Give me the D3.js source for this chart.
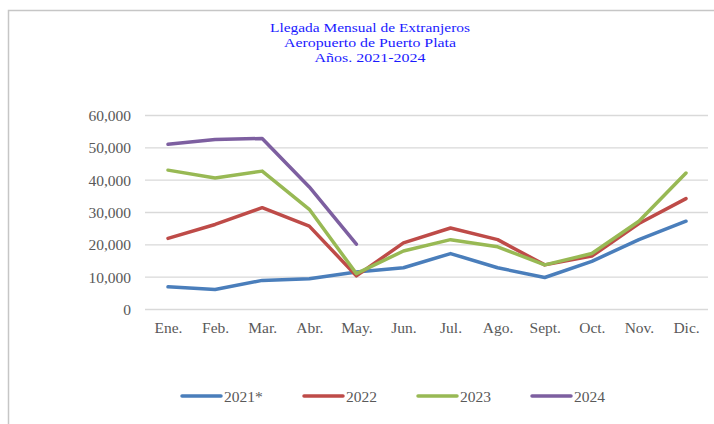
<!DOCTYPE html>
<html>
<head>
<meta charset="utf-8">
<script src="https://cdn.jsdelivr.net/npm/d3@7"></script>
<style>
  body { margin: 0; background: #fff; }
  svg { display: block; }
</style>
</head>
<body>
<svg id="chart" width="714" height="424"></svg>
<script>
const months = ['Ene.', 'Feb.', 'Mar.', 'Abr.', 'May.', 'Jun.', 'Jul.', 'Ago.', 'Sept.', 'Oct.', 'Nov.', 'Dic.'];
const yTicks = [0, 10000, 20000, 30000, 40000, 50000, 60000];
const titleLines = ['Llegada Mensual de Extranjeros', 'Aeropuerto de Puerto Plata', 'Años. 2021-2024'];

const v2021 = [7000, 6200, 9000, 9500, 11600, 12900, 17300, 12900, 9900, 14900, 21600, 27300];
const v2022 = [22000, 26300, 31500, 25800, 10400, 20600, 25200, 21600, 13800, 16500, 26600, 34300];
const v2023 = [43100, 40700, 42800, 31000, 11100, 18100, 21600, 19400, 13800, 17300, 27300, 42200];
const v2024 = [51100, 52600, 52900, 37900, 20200];

const series = [
  { name: '2021*', values: v2021, color: '#4a7ebb' },
  { name: '2022', values: v2022, color: '#be4b48' },
  { name: '2023', values: v2023, color: '#98b954' },
  { name: '2024', values: v2024, color: '#7d5fa0' },
];

const SERIF = '"Liberation Serif", "Times New Roman", serif';
const svg = d3.select('#chart');

// outer chart frame
svg.append('path')
  .attr('d', 'M8.5,424 V10.5 H714')
  .attr('fill', 'none')
  .attr('stroke', '#c6c6c6')
  .attr('stroke-width', 1.5);

// title (tight line spacing, like the original)
const titleWidths = [200, 172, 111];
svg.append('g')
  .selectAll('text')
  .data(titleLines)
  .join('text')
  .attr('x', 370)
  .attr('y', (d, i) => 32 + i * 15)
  .attr('text-anchor', 'middle')
  .style('font-family', SERIF)
  .attr('fill', '#1a1aff')
  .attr('font-size', 13)
  .attr('textLength', (d, i) => titleWidths[i])
  .attr('lengthAdjust', 'spacingAndGlyphs')
  .text((d) => d);

const x = d3.scalePoint().domain(months).range([168, 686]);
const y = d3.scaleLinear().domain([0, 60000]).range([309.5, 115.5]);

// gridlines
svg.append('g')
  .selectAll('line')
  .data(yTicks)
  .join('line')
  .attr('x1', 145)
  .attr('x2', 708)
  .attr('y1', (d) => y(d))
  .attr('y2', (d) => y(d))
  .attr('stroke', '#d9d9d9')
  .attr('stroke-width', 1.3);

// y axis labels
const yAxis = svg.append('g')
  .attr('transform', 'translate(131,0)')
  .call(d3.axisLeft(y).tickValues(yTicks).tickSize(0).tickPadding(0)
    .tickFormat(d3.format(',')));
yAxis.select('.domain').remove();
yAxis.selectAll('text')
  .style('font-family', SERIF)
  .attr('font-size', 15.5)
  .attr('fill', '#595959');

// x axis labels
const xAxis = svg.append('g')
  .attr('transform', 'translate(0,322)')
  .call(d3.axisBottom(x).tickSize(0).tickPadding(0));
xAxis.select('.domain').remove();
xAxis.selectAll('text')
  .style('font-family', SERIF)
  .attr('font-size', 15.5)
  .attr('fill', '#595959');

// lines
const line = d3.line()
  .x((d, i) => x(months[i]))
  .y((d) => y(d));

svg.append('g')
  .selectAll('path')
  .data(series)
  .join('path')
  .attr('d', (d) => line(d.values))
  .attr('fill', 'none')
  .attr('stroke', (d) => d.color)
  .attr('stroke-width', 3.5)
  .attr('stroke-linejoin', 'round')
  .attr('stroke-linecap', 'round');

// legend
const legendX = [182, 304, 418, 532];
const legend = svg.append('g')
  .selectAll('g')
  .data(series)
  .join('g')
  .attr('transform', (d, i) => `translate(${legendX[i]},396)`);
legend.append('line')
  .attr('x1', 0)
  .attr('x2', 39)
  .attr('stroke', (d) => d.color)
  .attr('stroke-width', 3.5)
  .attr('stroke-linecap', 'round');
legend.append('text')
  .attr('x', 42)
  .attr('y', 5.5)
  .style('font-family', SERIF)
  .attr('font-size', 15.5)
  .attr('fill', '#595959')
  .text((d) => d.name);
</script>
</body>
</html>
